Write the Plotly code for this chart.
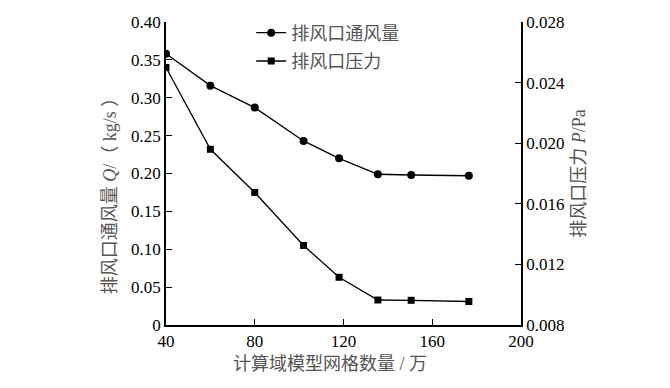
import plotly.graph_objects as go

grid = [40, 60, 80, 102, 118, 135.5, 150.5, 176.5]
flow_q = [0.358, 0.316, 0.287, 0.243, 0.220, 0.199, 0.198, 0.197]
press_p = [0.0250, 0.0196, 0.01675, 0.01325, 0.01115, 0.00965, 0.00963, 0.00955]

x_ticks = [40, 80, 120, 160, 200]
q_ticks = [0, 0.05, 0.10, 0.15, 0.20, 0.25, 0.30, 0.35, 0.40]
q_text = ["0", "0.05", "0.10", "0.15", "0.20", "0.25", "0.30", "0.35", "0.40"]
p_ticks = [0.008, 0.012, 0.016, 0.020, 0.024, 0.028]
p_text = ["0.008", "0.012", "0.016", "0.020", "0.024", "0.028"]

serif = "Liberation Serif, Times New Roman, serif"
cjk = "Liberation Serif, Noto Sans CJK SC, serif"
gray = "#555555"
pad = "<span style='color:rgba(0,0,0,0)'>{}</span>"

fig = go.Figure()
fig.add_trace(go.Scatter(
    x=grid, y=flow_q, name="排风口通风量", mode="lines+markers",
    legendgroup="q",
    line=dict(color="black", width=1.3),
    marker=dict(symbol="circle", size=8, color="black"),
    yaxis="y"))
fig.add_trace(go.Scatter(
    x=grid, y=press_p, name="排风口压力", mode="lines+markers",
    legendgroup="p",
    line=dict(color="black", width=1.3),
    marker=dict(symbol="square", size=7, color="black"),
    yaxis="y2"))

axis_common = dict(showline=True, linecolor="black", linewidth=1.5,
                   ticks="inside", ticklen=6, tickwidth=1.3, tickcolor="black",
                   showgrid=False, zeroline=False,
                   tickfont=dict(family=serif, size=17, color="black"))

fig.update_layout(
    width=670, height=388,
    margin=dict(l=166, r=149, t=22, b=63),
    paper_bgcolor="white", plot_bgcolor="white",
    showlegend=True,
    legend=dict(x=0.24, y=1.025, xanchor="left", yanchor="top",
                bgcolor="rgba(0,0,0,0)",
                font=dict(family=cjk, size=18, color=gray),
                itemwidth=30, traceorder="grouped", tracegroupgap=2),
    xaxis=dict(range=[40, 200], tickvals=x_ticks,
               title=dict(text="计算域模型网格数量 / 万" + pad.format("万1"),
                          font=dict(family=cjk, size=18, color=gray), standoff=7),
               **axis_common),
    yaxis=dict(range=[0, 0.40], tickvals=q_ticks, ticktext=q_text,
               title=dict(text="排风口通风量 <i>Q</i>/（ kg/s ）" + pad.format("万万"),
                          font=dict(family=cjk, size=18, color=gray), standoff=10),
               **axis_common),
    yaxis2=dict(range=[0.008, 0.028], tickvals=p_ticks, ticktext=p_text,
                overlaying="y", side="right", anchor="x",
                title=dict(text="排风口压力 <i>P</i>/Pa",
                           font=dict(family=cjk, size=18, color=gray), standoff=8),
                **axis_common),
)

fig.write_html("out.html")
